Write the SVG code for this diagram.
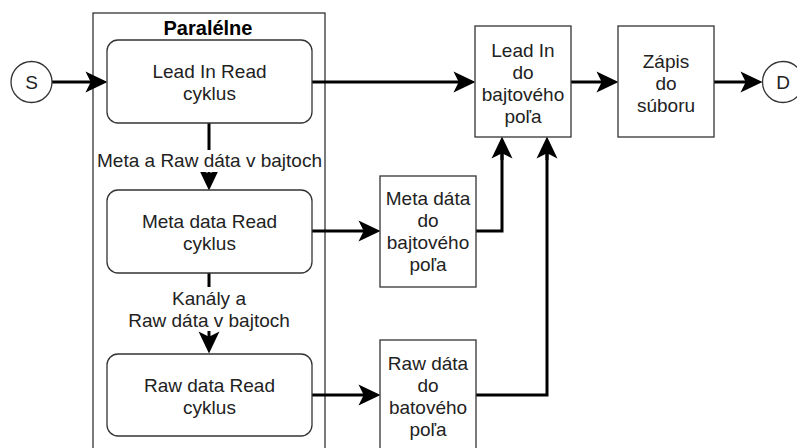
<svg xmlns="http://www.w3.org/2000/svg" width="797" height="448" viewBox="0 0 797 448">
<defs>
<marker id="arr" markerUnits="userSpaceOnUse" markerWidth="22" markerHeight="22" viewBox="0 0 21 20" refX="11" refY="10" orient="auto">
<path d="M0,0 L21,10 L0,20 L5,10 Z" fill="#000"/>
</marker>
<style>
.t{font-family:"Liberation Sans",Arial,sans-serif;font-size:19px;fill:#222;text-anchor:middle}
.b{font-weight:bold;font-size:20px;fill:#000}
.box{fill:#fff;stroke:#333;stroke-width:1.3}
.c{fill:none;stroke:#000;stroke-width:3;marker-end:url(#arr)}
.l{fill:none;stroke:#000;stroke-width:3}
</style>
</defs>
<rect width="797" height="448" fill="#fff"/>
<g id="paralelne">
<rect x="93" y="13" width="232" height="450" fill="none" stroke="#333" stroke-width="1.3"/>
<text class="t b" x="208" y="34.5">Paralélne</text>
</g>
<g id="connectors">
<path class="c" d="M52,82 H97"/>
<path class="c" d="M312,82 H465"/>
<path class="c" d="M571,82 H608"/>
<path class="c" d="M714,82 H752"/>
<path class="c" d="M312,231 H370"/>
<path class="c" d="M312,395 H370"/>
<path class="l" d="M476,231 H502 V148"/>
<path class="c" d="M502,160 V147"/>
<path class="l" d="M476,395 H547 V148"/>
<path class="c" d="M547,160 V147"/>
<path class="c" d="M209,123 V180"/>
<path class="c" d="M209,273 V343"/>
</g>
<g id="label1">
<rect x="96" y="150" width="227" height="22" fill="#fff"/>
<text class="t" x="209.5" y="167">Meta a Raw dáta v bajtoch</text>
</g>
<g id="label2">
<rect x="128" y="287" width="162" height="44" fill="#fff"/>
<text class="t" x="209" y="305">Kanály a</text>
<text class="t" x="209" y="327">Raw dáta v bajtoch</text>
</g>
<g id="S">
<circle cx="31.5" cy="82" r="20.5" class="box"/>
<text class="t" x="31.5" y="88.5">S</text>
</g>
<g id="D">
<circle cx="783" cy="82" r="20.5" class="box"/>
<text class="t" x="783" y="88.5">D</text>
</g>
<g id="leadInRead">
<rect x="107" y="40" width="205" height="83" rx="11" class="box"/>
<text class="t" x="209.5" y="78">Lead In Read</text>
<text class="t" x="209.5" y="100">cyklus</text>
</g>
<g id="metaRead">
<rect x="107" y="190" width="205" height="83" rx="11" class="box"/>
<text class="t" x="209.5" y="228">Meta data Read</text>
<text class="t" x="209.5" y="250">cyklus</text>
</g>
<g id="rawRead">
<rect x="107" y="354" width="205" height="82" rx="11" class="box"/>
<text class="t" x="209.5" y="392">Raw data Read</text>
<text class="t" x="209.5" y="414">cyklus</text>
</g>
<g id="leadInPole">
<rect x="475" y="26" width="96" height="111" class="box"/>
<text class="t" x="523" y="57">Lead In</text>
<text class="t" x="523" y="79">do</text>
<text class="t" x="523" y="101">bajtového</text>
<text class="t" x="523" y="123">poľa</text>
</g>
<g id="zapis">
<rect x="618" y="26" width="96" height="111" class="box"/>
<text class="t" x="666" y="68">Zápis</text>
<text class="t" x="666" y="90">do</text>
<text class="t" x="666" y="112">súboru</text>
</g>
<g id="metaPole">
<rect x="380" y="176" width="96" height="111" class="box"/>
<text class="t" x="428" y="205">Meta dáta</text>
<text class="t" x="428" y="227">do</text>
<text class="t" x="428" y="249">bajtového</text>
<text class="t" x="428" y="271">poľa</text>
</g>
<g id="rawPole">
<rect x="380" y="340" width="96" height="111" class="box"/>
<text class="t" x="428" y="370">Raw dáta</text>
<text class="t" x="428" y="392">do</text>
<text class="t" x="428" y="414">batového</text>
<text class="t" x="428" y="436">poľa</text>
</g>
</svg>
